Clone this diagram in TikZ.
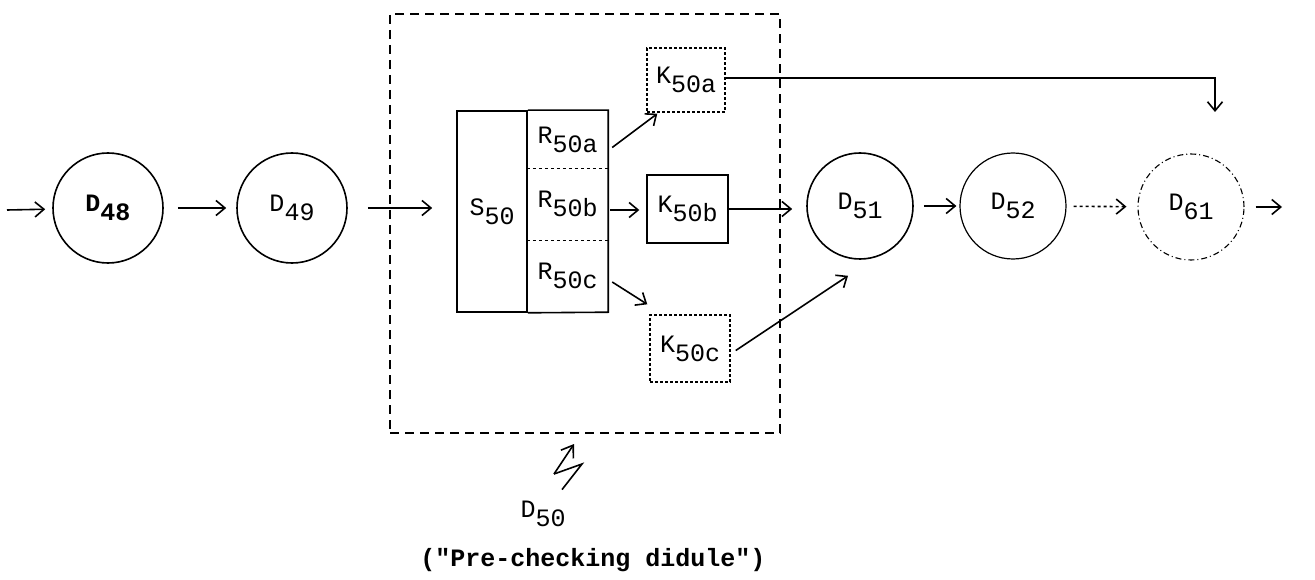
\documentclass[tikz,border=0pt]{standalone}
\usepackage{fontspec}
\setmainfont{Liberation Mono}
\usetikzlibrary{arrows.meta}
\newcommand\lw[1]{\raisebox{-9pt}{#1}}
\begin{document}
\begin{tikzpicture}[x=1pt,y=-1pt,
  every node/.style={font=\fontsize{25}{30}\selectfont},
  arr/.style={line width=1.6pt,-{Straight Barb[length=9pt,width=15pt,line width=1.6pt]}},
  disc/.style={circle,draw,line width=1.6pt,minimum size=110pt,inner sep=0pt},
  kbox/.style={draw,rectangle,line width=1.4pt,inner sep=0pt},
  rcell/.style={rectangle,minimum width=81pt,inner sep=0pt},
]
\useasboundingbox (0,0) rectangle (1315,580);

% dashed container
\node[draw,dash pattern=on 9pt off 6pt,line width=1.8pt,minimum width=390pt,minimum height=419pt,inner sep=0pt] (box) at (585,223.5) {};

% didules
\node[disc] (D48) at (108,208) {\bfseries D\lw{48}};
\node[disc] (D49) at (292,208) {D\lw{49}};
\node[disc,minimum size=106pt] (D51) at (860,206) {D\lw{51}};
\node[disc,minimum size=106pt,line width=1.2pt] (D52) at (1013,206) {D\lw{52}};
\node[disc,minimum size=106pt,line width=1.1pt,dash pattern=on 6pt off 3pt on 1pt off 3pt] (D61) at (1191,207) {D\lw{61}};

% S and R
\node[draw,line width=1.6pt,minimum width=70pt,minimum height=201pt,inner sep=0pt] (S) at (492,211.5) {S\lw{50}};
\node[rcell,minimum height=57pt] (Ra) at (567.5,139.5) {R\lw{50a}};
\node[rcell,minimum height=72pt] (Rb) at (567.5,204) {R\lw{50b}};
\node[rcell,minimum height=72pt] (Rc) at (567.5,276) {R\lw{50c}};
\draw[line width=1.6pt] (S.north east) -| (Rc.south east) -- (S.south east);
\draw[line width=1.2pt,dashed] (Ra.south west) -- (Ra.south east);
\draw[line width=1.2pt,dashed] (Rb.south west) -- (Rb.south east);

% K boxes
\node[kbox,densely dashed,minimum width=78pt,minimum height=64pt] (Ka) at (686,80) {K\lw{50a}};
\node[kbox,minimum width=81pt,minimum height=68pt] (Kb) at (687.5,209) {K\lw{50b}};
\node[kbox,densely dashed,minimum width=80pt,minimum height=67pt] (Kc) at (690,348.5) {K\lw{50c}};

% connectors
\coordinate (in) at (7,210);
\coordinate (k61) at (1215,112);
\coordinate (out) at (1282,207);
\draw[arr,shorten >=7pt] (in) -- (D48);
\draw[arr,shorten <=14pt,shorten >=10pt] (D48) -- (D49);
\draw[arr,shorten <=20pt,shorten >=24pt] (D49.east) -- (D49.east -| S.west);
\draw[arr] ([shift={(4,8)}]Ra.east) -- ([shift={(11,1)}]Ka.south west);
\draw[arr] ([shift={(2,6)}]Rb.east) -- ([shift={(-7,1)}]Kb.west);
\draw[arr] ([shift={(4,6)}]Rc.east) -- ([shift={(-2,-10)}]Kc.north west);
\draw[arr] ([shift={(0,-2)}]Ka.east) -| (k61);
\draw[arr,shorten >=14pt] (Kb.east) -- (Kb.east -| D51.west);
\draw[arr] ([shift={(5,2)}]Kc.east) -- ([shift={(-12,16)}]D51.south);
\draw[arr,shorten <=10pt,shorten >=3pt] (D51) -- (D52);
\draw[arr,dashed,shorten <=7pt,shorten >=11pt] (D52) -- (D61);
\draw[arr,shorten <=11pt] (D61.east) -- (out);

% D50 label and lightning
\node (D50) at (543,514) {D\lw{50}};
\coordinate (b1) at (582,464);
\coordinate (b2) at (554,474);
\coordinate (bolt) at (574,444);
\draw[line width=1.6pt,line join=miter] ([shift={(19,-8)}]D50.north) -- (b1) -- (b2);
\draw[line width=1.6pt,-{Straight Barb[length=11pt,width=15pt,line width=1.6pt]}] (b2) -- (bolt);
\node[font=\fontsize{25}{30}\selectfont\bfseries] (cap) at (593,560) {(\textquotedbl Pre-checking didule\textquotedbl)};
\end{tikzpicture}
\end{document}
